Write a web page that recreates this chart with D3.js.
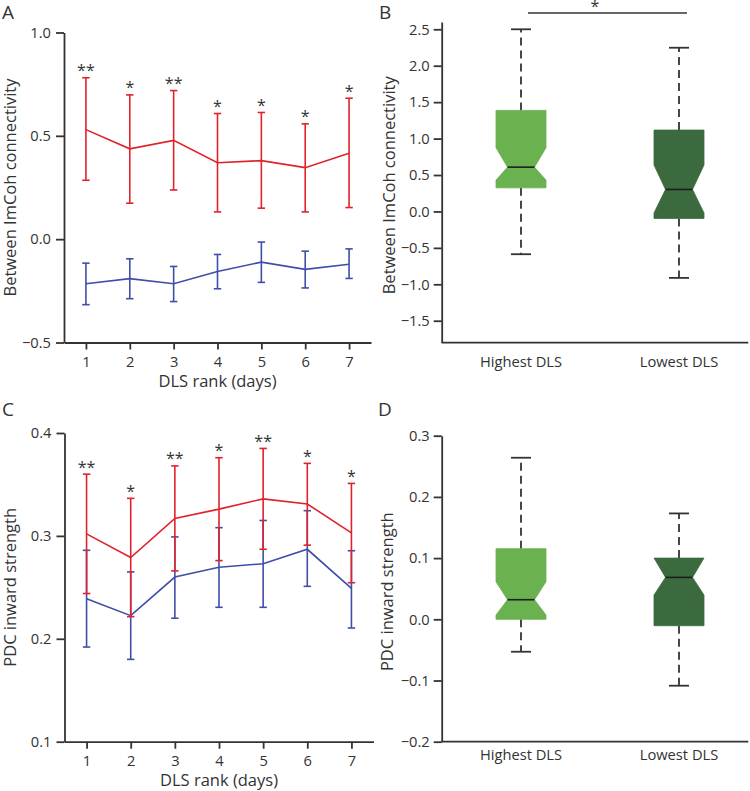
<!DOCTYPE html>
<html lang="en">
<head>
<meta charset="UTF-8">
<title>DLS rank connectivity</title>
<script src="https://d3js.org/d3.v7.min.js"></script>
<style>
  body { margin: 0; background: #fff; }
  text { font-family: "Open Sans", sans-serif; fill: #333; }
</style>
</head>
<body>
<div id="chart"></div>
<script>
// x categories for the line panels (A, C)
const days = [1, 2, 3, 4, 5, 6, 7];

// Panel A - between ImCoh connectivity (mean with upper / lower error)
const imcohRedMean  = [0.530, 0.437, 0.478, 0.370, 0.380, 0.346, 0.416];
const imcohRedUpper = [0.781, 0.698, 0.719, 0.608, 0.613, 0.558, 0.682];
const imcohRedLower = [0.285, 0.174, 0.238, 0.132, 0.150, 0.132, 0.153];
const imcohBlueMean  = [-0.216, -0.191, -0.216, -0.156, -0.111, -0.146, -0.121];
const imcohBlueUpper = [-0.116, -0.095, -0.132, -0.074, -0.014, -0.058, -0.047];
const imcohBlueLower = [-0.317, -0.288, -0.302, -0.240, -0.209, -0.236, -0.190];
const imcohStars = ["**", "*", "**", "*", "*", "*", "*"];
const imcohLineTicks = [-0.5, 0, 0.5, 1.0];

// Panel C - PDC inward strength
const pdcRedMean  = [0.302, 0.279, 0.317, 0.326, 0.336, 0.331, 0.303];
const pdcRedUpper = [0.360, 0.3365, 0.368, 0.376, 0.385, 0.3705, 0.351];
const pdcRedLower = [0.244, 0.2215, 0.266, 0.276, 0.287, 0.291, 0.2545];
const pdcBlueMean  = [0.239, 0.2225, 0.260, 0.2695, 0.273, 0.287, 0.249];
const pdcBlueUpper = [0.286, 0.265, 0.299, 0.308, 0.315, 0.3245, 0.2856];
const pdcBlueLower = [0.192, 0.180, 0.220, 0.2306, 0.2306, 0.251, 0.2105];
const pdcStars = ["**", "*", "**", "*", "**", "*", "*"];
const pdcLineTicks = [0.1, 0.2, 0.3, 0.4];

// Panels B and D - notched box plots
const boxGroups = ["Highest DLS", "Lowest DLS"];

const imcohWhiskLo = [-0.587, -0.912];
const imcohQ1      = [0.324, -0.096];
const imcohNotchLo = [0.430, -0.020];
const imcohMedian  = [0.608, 0.302];
const imcohNotchHi = [0.874, 0.636];
const imcohQ3      = [1.387, 1.117];
const imcohWhiskHi = [2.500, 2.247];
const imcohBoxTicks = [-1.5, -1.0, -0.5, 0, 0.5, 1.0, 1.5, 2.0, 2.5];

const pdcWhiskLo = [-0.053, -0.1085];
const pdcQ1      = [0.000, -0.0105];
const pdcNotchLo = [0.007, 0.0397];
const pdcMedian  = [0.032, 0.0685];
const pdcNotchHi = [0.0614, 0.100];
const pdcQ3      = [0.1154, 0.100];
const pdcWhiskHi = [0.264, 0.173];
const pdcBoxTicks = [-0.2, -0.1, 0, 0.1, 0.2, 0.3];

const RED = "#e0222b";
const BLUE = "#3f4ea8";
const BOX_COLORS = ["#6ab150", "#3b6a3f"];
const INK = "#333";
const TICK_FONT = 14.7;
const TITLE_FONT = 16.5;

const svg = d3.select("#chart")
  .append("svg")
  .attr("width", 750)
  .attr("height", 791);

function styleAxis(ax) {
  ax.selectAll("path, line").attr("stroke", INK).attr("stroke-width", 1.8);
  ax.selectAll("text").attr("font-size", TICK_FONT).attr("fill", INK)
    .attr("font-family", "'Open Sans', sans-serif");
  ax.attr("font-family", null).attr("font-size", null);
}

function panelLetter(letter, x, y) {
  svg.append("text").attr("x", x).attr("y", y)
    .attr("font-size", 19).text(letter);
}

// line chart with error bars
function linePanel(o) {
  const g = svg.append("g");
  const x = d3.scaleLinear().domain([0.5, 7.5]).range([o.left, o.right]);
  const y = d3.scaleLinear().domain(o.yDomain).range([o.bottom, o.top]);

  g.append("g")
    .attr("transform", `translate(0,${o.bottom})`)
    .call(d3.axisBottom(x).tickValues(days).tickFormat(d3.format("d"))
      .tickSize(7).tickSizeOuter(0).tickPadding(7))
    .call(styleAxis);

  g.append("g")
    .attr("transform", `translate(${o.left},0)`)
    .call(d3.axisLeft(y).tickValues(o.ticks).tickFormat(d3.format(".1f"))
      .tickSize(8).tickSizeOuter(0).tickPadding(5))
    .call(styleAxis);

  o.series.forEach(s => {
    const rows = days.map((d, i) => ({ d: d, m: s.mean[i], hi: s.upper[i], lo: s.lower[i] }));
    const eb = g.append("g").attr("stroke", s.color).attr("stroke-width", 1.6).attr("fill", "none");
    eb.selectAll(".bar").data(rows).enter().append("line")
      .attr("x1", r => x(r.d)).attr("x2", r => x(r.d))
      .attr("y1", r => y(r.lo)).attr("y2", r => y(r.hi));
    eb.selectAll(".capHi").data(rows).enter().append("line")
      .attr("x1", r => x(r.d) - 3.7).attr("x2", r => x(r.d) + 3.7)
      .attr("y1", r => y(r.hi)).attr("y2", r => y(r.hi));
    eb.selectAll(".capLo").data(rows).enter().append("line")
      .attr("x1", r => x(r.d) - 3.7).attr("x2", r => x(r.d) + 3.7)
      .attr("y1", r => y(r.lo)).attr("y2", r => y(r.lo));
    eb.append("path")
      .attr("d", d3.line().x(r => x(r.d)).y(r => y(r.m))(rows));
  });

  // significance stars above the upper red error bar
  g.selectAll(".star").data(days).enter().append("text")
    .attr("x", (d, i) => x(d))
    .attr("y", (d, i) => y(o.starRef[i]) - 1.5)
    .attr("text-anchor", "middle")
    .attr("font-size", 16)
    .text((d, i) => o.stars[i]);

  g.append("text")
    .attr("x", (o.left + o.right) / 2)
    .attr("y", o.bottom + 44)
    .attr("text-anchor", "middle")
    .attr("font-size", TITLE_FONT)
    .text("DLS rank (days)");

  g.append("text")
    .attr("transform", `translate(16,${(o.top + o.bottom) / 2}) rotate(-90)`)
    .attr("text-anchor", "middle")
    .attr("font-size", TITLE_FONT)
    .text(o.yTitle);
}

// notched box plot
function boxPanel(o) {
  const g = svg.append("g");
  const x = d3.scalePoint().domain(boxGroups).range([521, 679]);
  const y = d3.scaleLinear().domain(o.yDomain).range([o.bottom, o.top]);
  const w = 50, nw = 27, cw = 20;

  // axes
  g.append("line")
    .attr("x1", o.left).attr("x2", o.right)
    .attr("y1", o.bottom).attr("y2", o.bottom)
    .attr("stroke", INK).attr("stroke-width", 1.8);
  g.append("g")
    .attr("transform", `translate(${o.left},0)`)
    .call(d3.axisLeft(y).tickValues(o.ticks).tickFormat(d3.format(".1f"))
      .tickSize(8).tickSizeOuter(0).tickPadding(4))
    .call(styleAxis);

  g.selectAll(".xlab").data(boxGroups).enter().append("text")
    .attr("x", d => x(d))
    .attr("y", o.bottom + o.labelOffset)
    .attr("text-anchor", "middle")
    .attr("font-size", TICK_FONT)
    .text(d => d);

  const rows = boxGroups.map((grp, i) => ({
    grp: grp, color: BOX_COLORS[i],
    wlo: o.whiskLo[i], q1: o.q1[i], nlo: o.notchLo[i], med: o.median[i],
    nhi: o.notchHi[i], q3: o.q3[i], whi: o.whiskHi[i]
  }));

  rows.forEach(r => {
    const cx = x(r.grp);
    // dashed whiskers
    g.append("line")
      .attr("x1", cx).attr("x2", cx).attr("y1", y(r.q3)).attr("y2", y(r.whi))
      .attr("stroke", INK).attr("stroke-width", 1.8).attr("stroke-dasharray", "8,5");
    g.append("line")
      .attr("x1", cx).attr("x2", cx).attr("y1", y(r.q1)).attr("y2", y(r.wlo))
      .attr("stroke", INK).attr("stroke-width", 1.8).attr("stroke-dasharray", "8,5");
    [r.whi, r.wlo].forEach(v => {
      g.append("line")
        .attr("x1", cx - cw / 2).attr("x2", cx + cw / 2)
        .attr("y1", y(v)).attr("y2", y(v))
        .attr("stroke", INK).attr("stroke-width", 1.8);
    });
    const pts = [
      [cx - w / 2, y(r.q3)], [cx + w / 2, y(r.q3)], [cx + w / 2, y(r.nhi)],
      [cx + nw / 2, y(r.med)], [cx + w / 2, y(r.nlo)], [cx + w / 2, y(r.q1)],
      [cx - w / 2, y(r.q1)], [cx - w / 2, y(r.nlo)], [cx - nw / 2, y(r.med)],
      [cx - w / 2, y(r.nhi)]
    ];
    g.append("path")
      .attr("d", d3.line()(pts) + "Z")
      .attr("fill", r.color).attr("stroke", r.color).attr("stroke-width", 0.8);
    g.append("line")
      .attr("x1", cx - nw / 2).attr("x2", cx + nw / 2)
      .attr("y1", y(r.med)).attr("y2", y(r.med))
      .attr("stroke", "#1e1e1e").attr("stroke-width", 1.6);
  });

  if (o.sig) {
    g.append("line")
      .attr("x1", x(boxGroups[0]) + 7).attr("x2", x(boxGroups[1]) + 8)
      .attr("y1", 13).attr("y2", 13)
      .attr("stroke", INK).attr("stroke-width", 1.6);
    g.append("text")
      .attr("x", x(boxGroups[0]) + 74).attr("y", 12)
      .attr("text-anchor", "middle").attr("font-size", 16)
      .text(o.sig);
  }

  g.append("text")
    .attr("transform", `translate(${o.titleX},${(o.top + o.bottom) / 2 + 3}) rotate(-90)`)
    .attr("text-anchor", "middle")
    .attr("font-size", TITLE_FONT)
    .text(o.yTitle);
}

linePanel({
  left: 64, right: 371, top: 32.5, bottom: 342.5,
  yDomain: [-0.5, 1.0], ticks: imcohLineTicks,
  series: [
    { mean: imcohBlueMean, upper: imcohBlueUpper, lower: imcohBlueLower, color: BLUE },
    { mean: imcohRedMean, upper: imcohRedUpper, lower: imcohRedLower, color: RED }
  ],
  stars: imcohStars, starRef: imcohRedUpper,
  yTitle: "Between ImCoh connectivity"
});

linePanel({
  left: 64.5, right: 373.5, top: 433, bottom: 741.7,
  yDomain: [0.1, 0.4], ticks: pdcLineTicks,
  series: [
    { mean: pdcBlueMean, upper: pdcBlueUpper, lower: pdcBlueLower, color: BLUE },
    { mean: pdcRedMean, upper: pdcRedUpper, lower: pdcRedLower, color: RED }
  ],
  stars: pdcStars, starRef: pdcRedUpper,
  yTitle: "PDC inward strength"
});

boxPanel({
  left: 441.7, right: 748.3, top: 22, bottom: 342.6,
  yDomain: [-1.8, 2.6], ticks: imcohBoxTicks, labelOffset: 24.5,
  whiskLo: imcohWhiskLo, q1: imcohQ1, notchLo: imcohNotchLo, median: imcohMedian,
  notchHi: imcohNotchHi, q3: imcohQ3, whiskHi: imcohWhiskHi,
  sig: "*", titleX: 394.5,
  yTitle: "Between ImCoh connectivity"
});

boxPanel({
  left: 441.7, right: 748.3, top: 435.7, bottom: 741.7,
  yDomain: [-0.2, 0.3], ticks: pdcBoxTicks, labelOffset: 18.5,
  whiskLo: pdcWhiskLo, q1: pdcQ1, notchLo: pdcNotchLo, median: pdcMedian,
  notchHi: pdcNotchHi, q3: pdcQ3, whiskHi: pdcWhiskHi,
  sig: null, titleX: 392.5,
  yTitle: "PDC inward strength"
});

panelLetter("A", 2, 19);
panelLetter("B", 379, 19);
panelLetter("C", 2, 415.5);
panelLetter("D", 378, 416);
</script>
</body>
</html>
